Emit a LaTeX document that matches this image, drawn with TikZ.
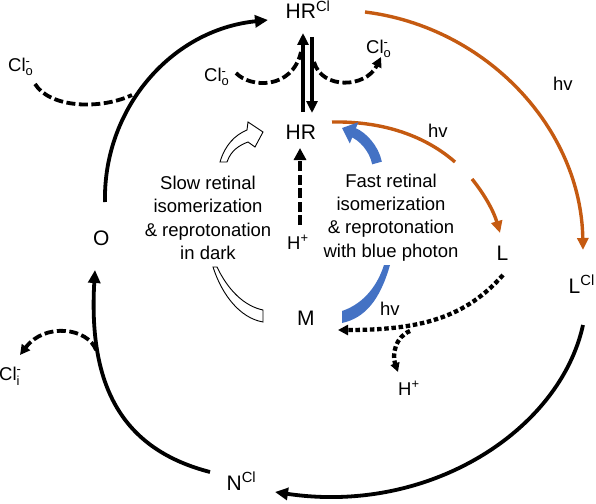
\documentclass[tikz,border=0pt]{standalone}
\usepackage{amsmath}
\usepackage{fontspec}
\setmainfont{Liberation Sans}
\usetikzlibrary{arrows.meta}

\definecolor{hvorange}{RGB}{197,90,17}
\definecolor{photonblue}{RGB}{68,114,196}

\begin{document}
\begin{tikzpicture}[x=1pt,y=-1pt,
  lbl/.style={inner sep=0pt, anchor=base west, font=\fontsize{18.5}{23.3}\selectfont},
  state/.style={lbl, font=\fontsize{21}{25}\selectfont},
  txt/.style={inner sep=0pt, anchor=base, align=center, font=\fontsize{18.5}{23.3}\selectfont},
  rxn/.style={line width=3.8pt, -{Triangle[length=13pt,width=12pt]}},
  clflow/.style={line width=3.8pt, dash pattern=on 9pt off 3.5pt},
  hflow/.style={line width=4.3pt, dash pattern=on 4.5pt off 2.7pt},
  light/.style={hvorange, line width=3.4pt},
  hollow/.style={draw=black, fill=white, line width=0.9pt}]
\useasboundingbox (0,0) rectangle (596,503);

% states of the cycle
\node[state] (HRCl) at (285.5,19) {HR\textsuperscript{Cl}};
\node[state] (HR) at (285.5,139) {HR};
\node[state] (M) at (297,325.5) {M};
\node[state] (L) at (496.5,260) {L};
\node[state] (LCl) at (568.5,293) {L\textsuperscript{Cl}};
\node[state] (NCl) at (226.5,490) {N\textsuperscript{Cl}};
\node[state] (O) at (93,245) {O};

% ions and photons
\node[lbl] (Clo1) at (8,71.5) {Cl$^{\text{-}}_{\text{o}}$};
\node[lbl] (Clo2) at (204,81.5) {Cl$^{\text{-}}_{\text{o}}$};
\node[lbl] (Clo3) at (366,53) {Cl$^{\text{-}}_{\text{o}}$};
\node[lbl] (Cli) at (-1,380) {Cl$^{\text{-}}_{\text{i}}$};
\node[lbl] (Hp1) at (287,249) {H\textsuperscript{+}};
\node[lbl] (Hp2) at (398,395) {H\textsuperscript{+}};
\node[lbl] (hv1) at (553,90) {hv};
\node[lbl] (hv2) at (428,137) {hv};
\node[lbl] (hv3) at (380,315) {hv};

\node[txt] (slow) at (208,259.3) {Slow retinal\\isomerization\\\& reprotonation\\in dark};
\node[txt] (fast) at (391,257) {Fast retinal\\isomerization\\\& reprotonation\\with blue photon};

% end points of the connectors
\coordinate (O-out) at (105,202);
\coordinate (HRCl-in) at (268,20);
\coordinate (Clo1-out) at (35,84);
\coordinate (Clo1-in) at (132,95);
\coordinate (HR-up) at (303,112);
\coordinate (HRCl-up) at (303,33);
\coordinate (HRCl-dn) at (312,37);
\coordinate (HR-dn) at (312,113);
\coordinate (Clo2-out) at (236,73);
\coordinate (Clo2-in) at (301,52);
\coordinate (Clo3-out) at (314,62);
\coordinate (Clo3-in) at (381,57);
\coordinate (HRCl-hv) at (365,12);
\coordinate (LCl-in) at (583,250);
\coordinate (HR-hv) at (332,122);
\coordinate (L-in) at (500,233);
\coordinate (Hp1-out) at (300,225);
\coordinate (HR-in) at (300,148);
\coordinate (L-out) at (503,275);
\coordinate (M-in) at (338,330);
\coordinate (Hp-fork) at (410,331);
\coordinate (Hp2-in) at (398,372);
\coordinate (LCl-out) at (583,325);
\coordinate (NCl-in) at (275,492);
\coordinate (NCl-out) at (210,472);
\coordinate (O-in) at (95,270);
\coordinate (Cli-fork) at (96,350);
\coordinate (Cli-in) at (20,355);

% chloride pumping cycle
\draw[rxn] (O-out) .. controls (103,110) and (170,30) .. (HRCl-in);
\draw[clflow] (Clo1-out) .. controls (50,108) and (100,110) .. (Clo1-in);
\draw[rxn, -{Triangle[length=12pt,width=11pt]}] (HR-up) -- (HRCl-up);
\draw[rxn, -{Triangle[length=12pt,width=11pt]}] (HRCl-dn) -- (HR-dn);
\draw[clflow] (Clo2-out) .. controls (250,88) and (292,90) .. (Clo2-in);
\draw[clflow, -{Triangle[length=10pt,width=10pt]}] (Clo3-out) .. controls (322,90) and (366,88) .. (Clo3-in);
\draw[rxn] (LCl-out) .. controls (560,430) and (430,515) .. (NCl-in);
\draw[rxn] (NCl-out) .. controls (125,450) and (88,390) .. (O-in);
\draw[clflow, -{Triangle[length=10pt,width=10pt]}] (Cli-fork) .. controls (88,328) and (45,322) .. (Cli-in);

% light steps
\draw[light, -{Triangle[length=12pt,width=11pt]}] (HRCl-hv) .. controls (486,27) and (581,128) .. (LCl-in);
\draw[light] (HR-hv) .. controls (390,121) and (430,140) .. (455,162);
\draw[light, -{Triangle[length=12pt,width=11pt]}] (472,179) .. controls (485,195) and (494,212) .. (L-in);

% proton steps
\draw[line width=4pt, dash pattern=on 10pt off 3.5pt, -{Triangle[length=12pt,width=12pt]}] (Hp1-out) -- (HR-in);
\draw[hflow, -{Triangle[length=10pt,width=10pt]}] (L-out) .. controls (465,318) and (420,330) .. (M-in);
\draw[hflow, -{Triangle[length=9pt,width=9pt]}] (Hp-fork) .. controls (395,337) and (392,355) .. (Hp2-in);

% blue photon return
\draw[photonblue, line width=10pt, -{Triangle[length=13pt,width=22pt]}] (377,163) .. controls (374,148) and (362,136) .. (342,128);
\fill[photonblue] (390,265) .. controls (380,300) and (365,318) .. (342,323) -- (342,311) .. controls (360,305) and (376,290) .. (384,265) -- cycle;

% dark return
\draw[hollow] (220,162) .. controls (225,145) and (235,135) .. (247,130) -- (248,122) -- (263,132) -- (255,147) -- (248,142) .. controls (240,145) and (231,150) .. (227,162) -- cycle;
\draw[hollow] (213,267) .. controls (222,295) and (240,318) .. (263,322) -- (263,310) .. controls (244,306) and (228,290) .. (217,267) -- cycle;
\end{tikzpicture}
\end{document}
